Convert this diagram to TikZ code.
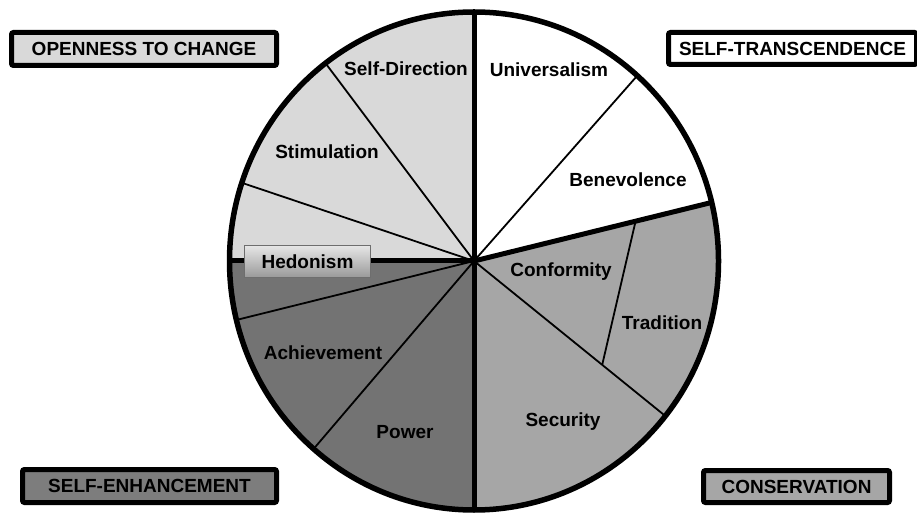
\documentclass[tikz,border=0pt]{standalone}
\usepackage{fontspec}
\setmainfont{Liberation Sans}
\usetikzlibrary{calc}

\definecolor{openfill}{HTML}{D9D9D9}
\definecolor{transfill}{HTML}{FFFFFF}
\definecolor{consfill}{HTML}{A6A6A6}
\definecolor{enhfill}{HTML}{737373}
\definecolor{enhbox}{HTML}{7D7D7D}
\definecolor{hedtop}{HTML}{E6E6E6}
\definecolor{hedbot}{HTML}{999999}
\definecolor{hedrule}{HTML}{6E6E6E}

\begin{document}
\begin{tikzpicture}[x=1pt,y=1pt,
  lbl/.style={font=\fontsize{19}{22}\selectfont\bfseries, text=black,
    inner sep=0pt, text height=13.6pt, text depth=0pt},
  catbox/.style={draw=black, line width=5pt, rounded corners=2pt,
    inner sep=0pt, text height=13.6pt, text depth=0pt,
    font=\fontsize{19}{22}\selectfont\bfseries},
  thinrule/.style={line width=1.8pt},
  thickrule/.style={line width=5pt},
  rim/.style={line width=5.5pt},
  pie/.style={x radius=244.5, y radius=249}
]
\useasboundingbox (0,0) rectangle (917,514);

% centre of the wheel and points on its rim
\coordinate (c) at (474,253);
\path (c) ++(90:244.5 and 249)    coordinate (pN);
\path (c) ++(-90:244.5 and 249)   coordinate (pS);
\path (c) ++(180:244.5 and 249)   coordinate (pW);
\path (c) ++(13.6:244.5 and 249)  coordinate (pT);
\path (c) ++(48.1:244.5 and 249)  coordinate (pUB);
\path (c) ++(-38.5:244.5 and 249) coordinate (pCS);
\path (c) ++(-131:244.5 and 249)  coordinate (pPA);
\path (c) ++(-166.3:244.5 and 249) coordinate (pAH);
\path (c) ++(161.7:244.5 and 249) coordinate (pHS);
\path (c) ++(127.4:244.5 and 249) coordinate (pSD);

% the four quadrants of values
\fill[openfill]  (c) -- (pW) arc[pie, start angle=180, end angle=90]   -- cycle;
\fill[transfill] (c) -- (pN) arc[pie, start angle=90,  end angle=13.6] -- cycle;
\fill[consfill]  (c) -- (pT) arc[pie, start angle=13.6, end angle=-90] -- cycle;
\fill[enhfill]   (c) -- (pS) arc[pie, start angle=-90, end angle=-180] -- cycle;

% thin dividers between single values
\draw[thinrule] (c) -- (pUB);
\draw[thinrule] (c) -- (pCS);
\draw[thinrule] (c) -- (pPA);
\draw[thinrule] (c) -- (pAH);
\draw[thinrule] (c) -- (pHS);
\draw[thinrule] (c) -- (pSD);
\draw[thinrule] ($(c)!0.68!(pT)$) coordinate (ctA) -- ($(c)!0.67!(pCS)$) coordinate (ctB);

% thick dividers between the four groups
\draw[thickrule] (pN) -- (pS);
\draw[thickrule] (c) -- (pW);
\draw[thickrule] (c) -- (pT);

% outer rim
\draw[rim] (c) ellipse[pie];

% value labels
\node[lbl] (sdir) at (406,445) {Self-Direction};
\node[lbl] (univ) at (549,444) {Universalism};
\node[lbl] (stim) at (327,362) {Stimulation};
\node[lbl] (bene) at (628,334) {Benevolence};
\node[lbl] (conf) at (561,244) {Conformity};
\node[lbl] (trad) at (662,191) {Tradition};
\node[lbl] (achv) at (323,161) {Achievement};
\node[lbl] (secu) at (563,94)  {Security};
\node[lbl] (powr) at (405,82)  {Power};
\node[lbl, draw=hedrule, line width=1.2pt, top color=hedtop, bottom color=hedbot,
  minimum width=126pt, minimum height=32pt] (hedo) at (307.5,252.5) {Hedonism};

% group labels
\node[catbox, fill=openfill, minimum width=265pt, minimum height=33pt]
  (open) at (144,465) {OPENNESS TO CHANGE};
\node[catbox, fill=transfill, minimum width=248pt, minimum height=32pt]
  (tran) at (792.5,465.5) {SELF-TRANSCENDENCE};
\node[catbox, fill=enhbox, minimum width=254pt, minimum height=33pt]
  (enha) at (149.5,28) {SELF-ENHANCEMENT};
\node[catbox, fill=consfill, minimum width=186pt, minimum height=32pt]
  (cons) at (796.5,27.5) {CONSERVATION};
\end{tikzpicture}
\end{document}
